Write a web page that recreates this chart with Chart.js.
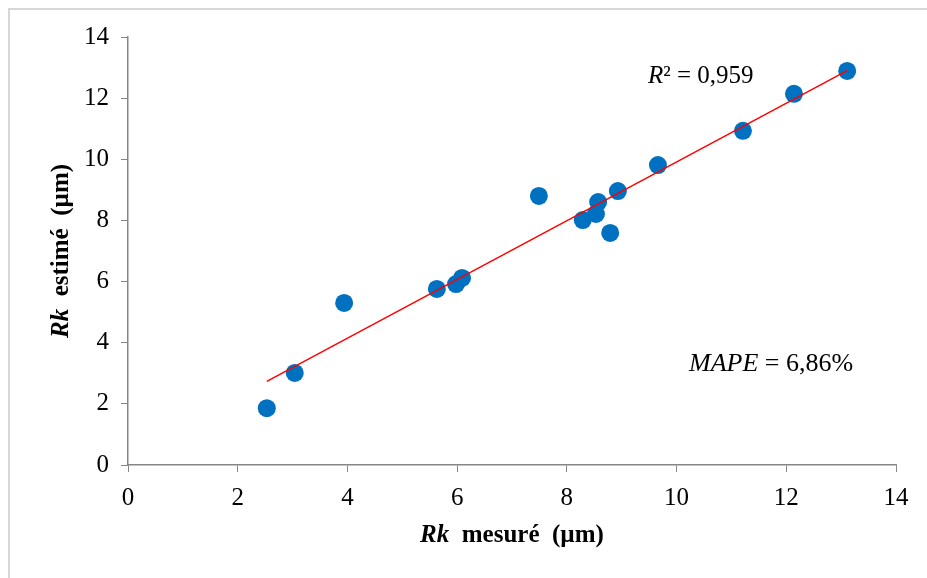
<!DOCTYPE html>
<html>
<head>
<meta charset="utf-8">
<script src="https://cdn.jsdelivr.net/npm/chart.js@4.4.1/dist/chart.umd.min.js"></script>
<style>
  html, body { margin: 0; padding: 0; background: #fff; overflow: hidden; }
  #wrap { position: relative; width: 927px; height: 578px; }
  #frame {
    position: absolute; left: 8px; top: 8px; width: 1000px; height: 1000px;
    border: 2px solid #d6d6d6; box-sizing: border-box;
  }
  #c { position: absolute; left: 0; top: 0; }
</style>
</head>
<body>
<div id="wrap">
  <div id="frame"></div>
  <canvas id="c" width="927" height="578"></canvas>
</div>
<script>
// Rk mesuré vs Rk estimé (µm)
const rkMesure = [2.53, 3.04, 3.94, 5.63, 5.98, 6.09, 7.49, 8.29, 8.53, 8.57, 8.79, 8.93, 9.66, 11.21, 12.14, 13.11];
const rkEstime = [1.86, 3.01, 5.30, 5.76, 5.92, 6.12, 8.80, 8.01, 8.21, 8.60, 7.59, 8.96, 9.81, 10.93, 12.14, 12.89];

const axisMin = 0;
const axisMax = 14;
const axisStep = 2;

const r2Label = "0,959";
const mapeLabel = "6,86%";

const serif = "'Liberation Serif', 'Times New Roman', serif";

// droite de régression (moindres carrés)
const n = rkMesure.length;
const mx = rkMesure.reduce((a, b) => a + b, 0) / n;
const my = rkEstime.reduce((a, b) => a + b, 0) / n;
let sxy = 0, sxx = 0;
for (let i = 0; i < n; i++) {
  sxy += (rkMesure[i] - mx) * (rkEstime[i] - my);
  sxx += (rkMesure[i] - mx) * (rkMesure[i] - mx);
}
const slope = sxy / sxx;
const intercept = my - slope * mx;
const xLo = Math.min(...rkMesure);
const xHi = Math.max(...rkMesure);
const trend = [
  { x: xLo, y: intercept + slope * xLo },
  { x: xHi, y: intercept + slope * xHi },
];

const points = rkMesure.map((x, i) => ({ x: x, y: rkEstime[i] }));

// draws text pieces with different styles one after another
function drawRuns(ctx, runs, x, y, align) {
  let total = 0;
  runs.forEach(r => { ctx.font = r.font; total += ctx.measureText(r.text).width; });
  let cx = align === "center" ? x - total / 2 : x;
  ctx.textAlign = "left";
  runs.forEach(r => {
    ctx.font = r.font;
    ctx.fillText(r.text, cx, y + (r.dy || 0));
    cx += ctx.measureText(r.text).width;
  });
}

const textPlugin = {
  id: "textes",
  afterDraw(chart) {
    const ctx = chart.ctx;
    const area = chart.chartArea;
    ctx.save();
    ctx.fillStyle = "#000";
    ctx.textBaseline = "middle";

    const bi = "italic bold 25px " + serif;
    const b = "bold 25px " + serif;

    // titre axe X
    drawRuns(ctx, [
      { text: "Rk", font: bi },
      { text: "  mesuré  (µm)", font: b },
    ], (area.left + area.right) / 2, 536, "center");

    // titre axe Y
    ctx.save();
    ctx.translate(62, (area.top + area.bottom) / 2);
    ctx.rotate(-Math.PI / 2);
    drawRuns(ctx, [
      { text: "Rk", font: bi },
      { text: "  estimé  (µm)", font: b },
    ], 0, 0, "center");
    ctx.restore();

    // R²
    ctx.textBaseline = "alphabetic";
    drawRuns(ctx, [
      { text: "R", font: "italic 25px " + serif },
      { text: "²", font: "25px " + serif },
      { text: " = " + r2Label, font: "25px " + serif },
    ], 648, 83, "left");

    // MAPE
    drawRuns(ctx, [
      { text: "MAPE", font: "italic 26px " + serif },
      { text: " = " + mapeLabel, font: "26px " + serif },
    ], 689, 371, "left");

    ctx.restore();
  }
};

const tickFont = { family: serif, size: 25 };

new Chart(document.getElementById("c"), {
  type: "scatter",
  data: {
    datasets: [
      {
        type: "line",
        label: "Tendance",
        data: trend,
        borderColor: "#FF0000",
        borderWidth: 1.5,
        pointRadius: 0,
        fill: false,
      },
      {
        label: "Rk",
        data: points,
        backgroundColor: "#0070C0",
        borderWidth: 0,
        pointRadius: 9,
        pointHoverRadius: 9,
      },
    ],
  },
  options: {
    responsive: false,
    animation: false,
    layout: { padding: { top: 37, right: 31, left: 0, bottom: 0 } },
    plugins: {
      legend: { display: false },
      tooltip: { enabled: false },
    },
    scales: {
      x: {
        type: "linear",
        min: axisMin,
        max: axisMax,
        afterFit: s => { s.height = 113; },
        ticks: { stepSize: axisStep, font: tickFont, color: "#000", padding: 11 },
        grid: { drawOnChartArea: false, tickLength: 7, color: "#868686" },
        border: { color: "#868686", width: 1.5 },
      },
      y: {
        type: "linear",
        min: axisMin,
        max: axisMax,
        afterFit: s => { s.width = 128; },
        ticks: { stepSize: axisStep, font: tickFont, color: "#000", padding: 12 },
        grid: { drawOnChartArea: false, tickLength: 7, color: "#868686" },
        border: { color: "#868686", width: 1.5 },
      },
    },
  },
  plugins: [textPlugin],
});
</script>
</body>
</html>
